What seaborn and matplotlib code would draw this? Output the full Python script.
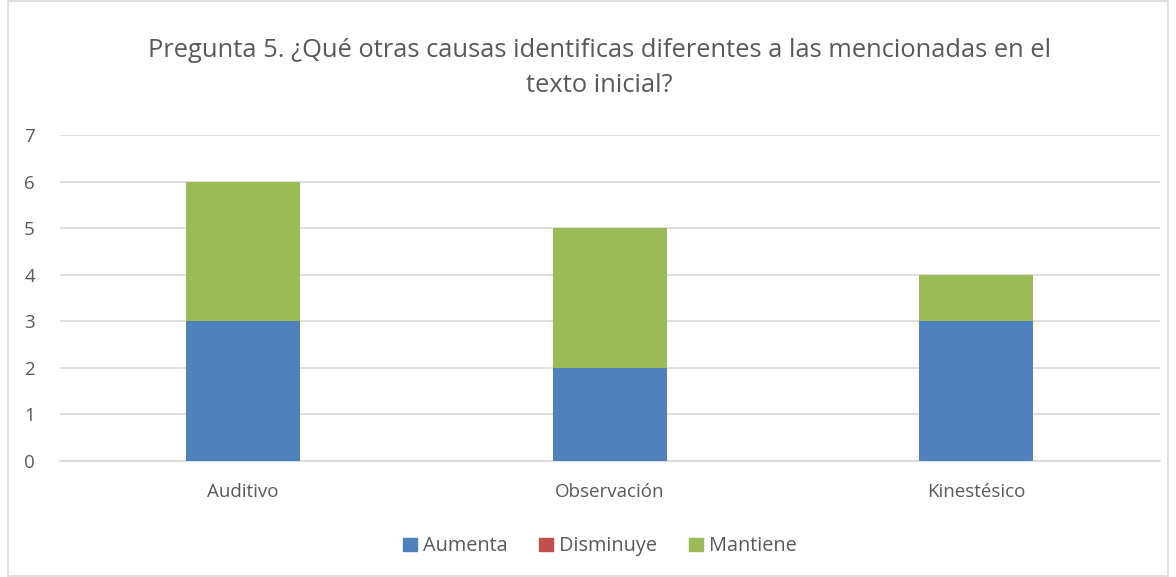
import matplotlib
matplotlib.use("Agg")
import matplotlib.pyplot as plt
import seaborn as sns
import pandas as pd
from matplotlib.patches import Rectangle, Patch

# Data
categorias = ["Auditivo", "Observación", "Kinestésico"]
aumenta = [3, 2, 3]
disminuye = [0, 0, 0]
mantiene = [3, 3, 1]

colores = {"Aumenta": "#4F81BD", "Disminuye": "#C0504D", "Mantiene": "#9BBB59"}

df = pd.DataFrame({"categoria": categorias, "Aumenta": aumenta,
                   "Disminuye": disminuye, "Mantiene": mantiene})
df["base_man"] = df["Aumenta"] + df["Disminuye"]

sns.set_style("white")
plt.rcParams['font.family'] = ['Open Sans', 'DejaVu Sans']

fig = plt.figure(figsize=(11.76, 5.77), dpi=100)
ax = fig.add_axes([0.051, 0.201, 0.935, 0.565])

# stacked bars
sns.barplot(data=df, x="categoria", y="Aumenta", color=colores["Aumenta"],
            width=0.31, ax=ax, saturation=1, linewidth=0, zorder=3)
sns.barplot(data=df, x="categoria", y="Disminuye", color=colores["Disminuye"],
            width=0.31, ax=ax, saturation=1, linewidth=0, bottom=df["Aumenta"], zorder=3)
sns.barplot(data=df, x="categoria", y="Mantiene", color=colores["Mantiene"],
            width=0.31, ax=ax, saturation=1, linewidth=0, bottom=df["base_man"], zorder=3)

ax.set_ylim(0, 7)
ax.set_xlim(-0.5, 2.5)
ax.set_yticks(range(0, 8))
ax.yaxis.grid(True, color="#D9D9D9", linewidth=1.2, zorder=0)
ax.set_axisbelow(True)
for s in ["top", "right", "left"]:
    ax.spines[s].set_visible(False)
ax.spines["bottom"].set_color("#D9D9D9")
ax.spines["bottom"].set_linewidth(1.2)
ax.set_xlabel("")
ax.set_ylabel("")
ax.tick_params(axis="both", length=0, labelsize=13.5, colors="#595959")
ax.tick_params(axis="x", pad=16)
ax.tick_params(axis="y", pad=18)

fig.text(0.51, 0.882,
         "Pregunta 5. ¿Qué otras causas identificas diferentes a las mencionadas en el\ntexto inicial?",
         ha="center", va="center", fontsize=18.4, color="#595959", linespacing=1.5)

handles = [Patch(color=colores[k], label=k) for k in ["Aumenta", "Disminuye", "Mantiene"]]
fig.legend(handles=handles, loc="center", bbox_to_anchor=(0.51, 0.053), ncol=3,
           frameon=False, fontsize=14.3, handlelength=0.7, handleheight=0.7,
           handletextpad=0.3, columnspacing=1.6, labelcolor="#595959")

# chart border
fig.patches.append(Rectangle((0.007, 0.002), 0.986, 0.996, transform=fig.transFigure,
                             fill=False, edgecolor="#D9D9D9", linewidth=1.2))

fig.savefig("out.png", dpi=100)
